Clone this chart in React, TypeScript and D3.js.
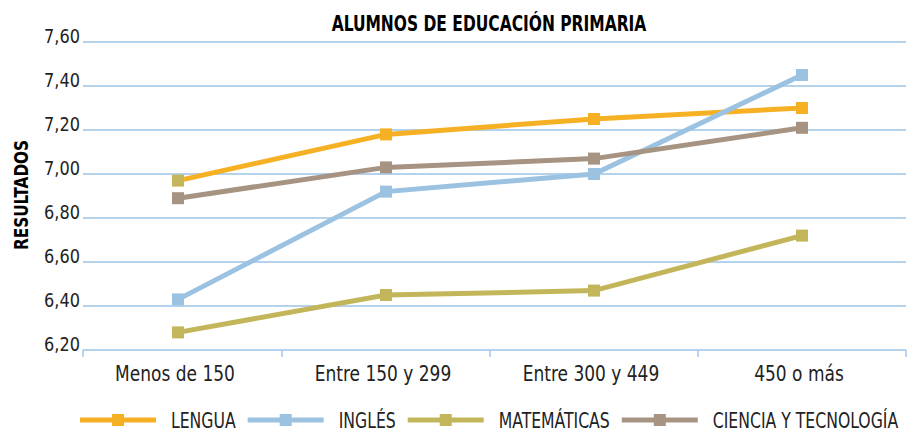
import React, { useEffect, useRef } from 'react';
import * as d3 from 'd3';

const categories = ['Menos de 150', 'Entre 150 y 299', 'Entre 300 y 449', '450 o más'];
const lengua = [6.97, 7.18, 7.25, 7.30];
const ingles = [6.43, 6.92, 7.0, 7.45];
const matematicas = [6.28, 6.45, 6.47, 6.72];
const ciencia = [6.89, 7.03, 7.07, 7.21];
const yTicks = [6.2, 6.4, 6.6, 6.8, 7.0, 7.2, 7.4, 7.6];

const seriesNames = ['LENGUA', 'INGLÉS', 'MATEMÁTICAS', 'CIENCIA Y TECNOLOGÍA'];
const seriesColors = ['#F6B024', '#9CC2E2', '#C3B65A', '#A69382'];

const W = 918;
const H = 432;
const FONT = '"DejaVu Sans Condensed", "DejaVu Sans", sans-serif';

type Sel = d3.Selection<SVGGElement, unknown, null, undefined> | d3.Selection<SVGSVGElement, unknown, null, undefined>;

// condensed-looking text: squeeze horizontally around the anchor point
const narrowText = (
  parent: Sel,
  x: number,
  y: number,
  txt: string,
  size: number,
  k: number,
  anchor = 'start',
  bold = false,
  rotate = 0
) => {
  return (parent as any).append('text')
    .attr('transform', `translate(${x},${y}) rotate(${rotate}) scale(${k},1)`)
    .attr('text-anchor', anchor)
    .attr('font-family', FONT)
    .attr('font-weight', bold ? 'bold' : 'normal')
    .attr('font-size', size)
    .attr('fill', bold ? '#000' : '#222')
    .text(txt) as d3.Selection<SVGTextElement, unknown, null, undefined>;
};

const App: React.FC = () => {
  const svgRef = useRef<SVGSVGElement>(null);

  useEffect(() => {
    document.body.style.margin = '0';
    if (!svgRef.current) return;
    const svg = d3.select(svgRef.current);
    svg.selectAll('*').remove();

    const series = [lengua, ingles, matematicas, ciencia];
    const left = 83, right = 906;

    const x = d3.scalePoint<string>().domain(categories).range([74, 906]).padding(0.5);
    const y = d3.scaleLinear().domain([6.2, 7.6]).range([350, 42]);
    const step = x.step();

    narrowText(svg, 489, 31, 'ALUMNOS DE EDUCACIÓN PRIMARIA', 21, 0.82, 'middle', true);
    narrowText(svg, 28, 195, 'RESULTADOS', 20, 0.85, 'middle', true, -90);

    // gridlines
    svg.append('g').selectAll('line')
      .data(yTicks)
      .enter()
      .append('line')
      .attr('x1', left).attr('x2', right)
      .attr('y1', d => y(d)).attr('y2', d => y(d))
      .attr('stroke', '#9DC3E6')
      .attr('stroke-width', 1.4);

    const yLab = svg.append('g');
    yTicks.forEach(t => {
      narrowText(yLab, 80, y(t) + 0.5, d3.format('.2f')(t).replace('.', ','), 19.5, 0.92, 'end');
    });

    // x axis ticks at category boundaries
    const bounds = [left, ...categories.slice(1).map(c => (x(c) as number) - step / 2), right];
    svg.append('g').selectAll('line')
      .data(bounds)
      .enter()
      .append('line')
      .attr('x1', d => d).attr('x2', d => d)
      .attr('y1', y(6.2)).attr('y2', y(6.2) + 7)
      .attr('stroke', '#9DC3E6')
      .attr('stroke-width', 1.4);

    const xLab = svg.append('g');
    categories.forEach(c => {
      narrowText(xLab, (x(c) as number) - 3, 381, c, 21.5, 0.88, 'middle');
    });

    const line = d3.line<number>()
      .x((_d, i) => x(categories[i]) as number)
      .y(d => y(d));

    series.forEach((vals, si) => {
      const color = seriesColors[si];
      svg.append('path')
        .datum(vals)
        .attr('d', line)
        .attr('fill', 'none')
        .attr('stroke', color)
        .attr('stroke-width', 5);
      svg.append('g').selectAll('rect')
        .data(vals)
        .enter()
        .append('rect')
        .attr('x', (_d, i) => (x(categories[i]) as number) - 6)
        .attr('y', d => y(d) - 6)
        .attr('width', 12).attr('height', 12)
        // first LENGUA marker shows in the olive tone in the original
        .attr('fill', (_d, i) => (si === 0 && i === 0 ? seriesColors[2] : color));
    });

    // legend
    const legend = svg.append('g');
    let lx = 80;
    const k = 0.85;
    seriesNames.forEach((name, i) => {
      const g = legend.append('g');
      g.append('line')
        .attr('x1', lx).attr('x2', lx + 76)
        .attr('y1', 420).attr('y2', 420)
        .attr('stroke', seriesColors[i])
        .attr('stroke-width', 5);
      g.append('rect')
        .attr('x', lx + 38 - 6).attr('y', 414)
        .attr('width', 12).attr('height', 12)
        .attr('fill', seriesColors[i]);
      const t = narrowText(g, lx + 91, 428, name, 20.5, k);
      const tw = (t.node() as SVGTextElement).getComputedTextLength() * k;
      lx = lx + 91 + tw + 12;
    });
  }, []);

  return <svg ref={svgRef} width={W} height={H} style={{ display: 'block', background: '#fff' }} />;
};

export default App;
